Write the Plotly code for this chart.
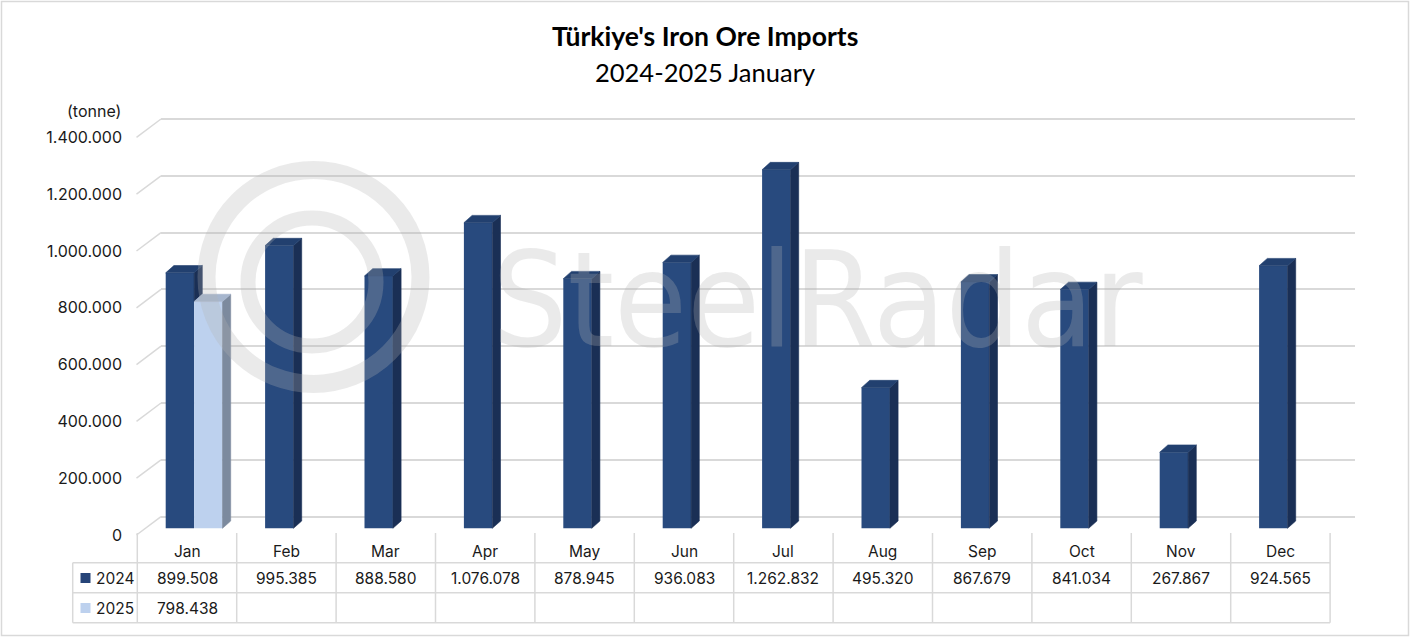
import plotly.graph_objects as go

# ---------------- data ----------------
months = ["Jan", "Feb", "Mar", "Apr", "May", "Jun", "Jul", "Aug", "Sep", "Oct", "Nov", "Dec"]
imports_2024 = [899508, 995385, 888580, 1076078, 878945, 936083, 1262832, 495320, 867679, 841034, 267867, 924565]
imports_2025 = [798438, None, None, None, None, None, None, None, None, None, None, None]
series_names = ["2024", "2025"]
y_ticks = [0, 200000, 400000, 600000, 800000, 1000000, 1200000, 1400000]
title_text = "Türkiye's Iron Ore Imports"
subtitle_text = "2024-2025 January"
unit_text = "(tonne)"
watermark_text = "SteelRadar"

# ---------------- geometry (pixels) ----------------
W, H = 1411, 638
PL, PR, PT, PB = 161, 1355, 100, 545      # plot area
COL0, COLW = 137.3, 99.4                  # table / category columns
K = 56.8 / 200000                         # px per tonne
BAR_ZERO, FRONT_ZERO, BACK_ZERO = 528.3, 535.0, 516.6
BAR_W = 28.4 / COLW
OFF_2024 = (165.7 - (COL0 + COLW / 2)) / COLW
OFF_2025 = OFF_2024 + BAR_W
DX = 8.2 / COLW
DY = 7.3 / K

C24 = dict(front="#284A7E", side="#1A2F55", top="#22406F", key="#264478")
C25 = dict(front="#BDD1EE", side="#7C8A9E", top="#A6B6CE", key="#BDD1EE")
GRID = "#D9D9D9"
WM = "rgba(180,180,180,0.28)"
FONT = "Inter, Open Sans, sans-serif"


def ux(px):
    return (px - COL0) / COLW - 0.5


def vy(py):
    return (BAR_ZERO - py) / K


def paper_x(px):
    return (px - PL) / (PR - PL)


def paper_y(py):
    return (PB - py) / (PB - PT)


def plane_range(zero_px):
    return [(zero_px - PB) / K, (zero_px - PT) / K]


def fmt(v):
    return f"{v:,}".replace(",", ".")


def faces(vals, off, clip=None):
    sx, sy, tx, ty = [], [], [], []
    for i, v in enumerate(vals):
        if v is None:
            continue
        xl = i + off
        xr = xl + BAR_W
        b = 0
        if clip is not None and clip[i] is not None:
            b = min(clip[i], v)
        sx += [xr, xr + DX, xr + DX, xr, xr, None]
        sy += [b, b + DY, v + DY, v, b, None]
        tx += [xl, xr, xr + DX, xl + DX, xl, None]
        ty += [v, v, v + DY, v + DY, v, None]
    return sx, sy, tx, ty


idx = list(range(len(months)))
fig = go.Figure()

# front faces
fig.add_trace(go.Bar(x=idx, y=imports_2024, width=BAR_W, offset=OFF_2024,
                     marker=dict(color=C24["front"], line=dict(width=0)),
                     name=series_names[0], hoverinfo="skip"))
fig.add_trace(go.Bar(x=idx, y=imports_2025, width=BAR_W, offset=OFF_2025,
                     marker=dict(color=C25["front"], line=dict(width=0)),
                     name=series_names[1], hoverinfo="skip"))

# 3D side / top faces
for vals, off, col, clip in [(imports_2024, OFF_2024, C24, imports_2025),
                             (imports_2025, OFF_2025, C25, None)]:
    sx, sy, tx, ty = faces(vals, off, clip)
    fig.add_trace(go.Scatter(x=sx, y=sy, mode="lines", fill="toself",
                             fillcolor=col["side"], line=dict(color=col["side"], width=0.6),
                             hoverinfo="skip", showlegend=False))
    fig.add_trace(go.Scatter(x=tx, y=ty, mode="lines", fill="toself",
                             fillcolor=col["top"], line=dict(color=col["top"], width=0.6),
                             hoverinfo="skip", showlegend=False))

# anchor traces for the label axis and back-wall axis
fig.add_trace(go.Scatter(x=[None], y=[None], yaxis="y2", showlegend=False, hoverinfo="skip"))
fig.add_trace(go.Scatter(x=[None], y=[None], yaxis="y3", showlegend=False, hoverinfo="skip"))

shapes = []
# diagonal connectors front -> back wall
back_shift = (FRONT_ZERO - BACK_ZERO) / K
for v in y_ticks:
    shapes.append(dict(type="line", xref="paper", yref="y2",
                       x0=paper_x(136.5), x1=paper_x(PL), y0=v, y1=v + back_shift,
                       line=dict(color=GRID, width=1.5), layer="below"))

# data table lines
TBL_L = 72.7
ROW_Y = [562.7, 592.7, 622.7]
TBL_TOP = 533
TBL_R = COL0 + 12 * COLW
for y in ROW_Y:
    shapes.append(dict(type="line", xref="paper", yref="paper",
                       x0=paper_x(TBL_L), x1=paper_x(TBL_R), y0=paper_y(y), y1=paper_y(y),
                       line=dict(color=GRID, width=1.5)))
shapes.append(dict(type="line", xref="paper", yref="paper",
                   x0=paper_x(TBL_L), x1=paper_x(TBL_L), y0=paper_y(ROW_Y[0]), y1=paper_y(ROW_Y[2]),
                   line=dict(color=GRID, width=1.5)))
for j in range(len(months) + 1):
    xp = COL0 + j * COLW
    shapes.append(dict(type="line", xref="paper", yref="paper",
                       x0=paper_x(xp), x1=paper_x(xp), y0=paper_y(TBL_TOP), y1=paper_y(ROW_Y[2]),
                       line=dict(color=GRID, width=1.5)))

# legend keys in the table
for r, col in enumerate([C24["key"], C25["key"]]):
    cy = 578 + 30 * r
    shapes.append(dict(type="rect", xref="paper", yref="paper",
                       x0=paper_x(80.5), x1=paper_x(90.5), y0=paper_y(cy + 5), y1=paper_y(cy - 5),
                       fillcolor=col, line=dict(width=0)))

# watermark logo rings
for cx, cy, r, lw in [(313.5, 277, 107, 18), (312, 282, 64, 15)]:
    shapes.append(dict(type="circle", xref="x", yref="y",
                       x0=ux(cx - r), x1=ux(cx + r), y0=vy(cy + r), y1=vy(cy - r),
                       line=dict(color=WM, width=lw), fillcolor="rgba(0,0,0,0)", layer="above"))

# figure border
shapes.append(dict(type="rect", xref="paper", yref="paper",
                   x0=paper_x(1.5), x1=paper_x(W - 2.5), y0=paper_y(H - 2.5), y1=paper_y(1.5),
                   line=dict(color=GRID, width=1.5), fillcolor="rgba(0,0,0,0)"))

ann = []
ann.append(dict(text="<b>" + title_text + "</b>", xref="paper", yref="paper",
                x=paper_x(705), y=paper_y(36), xanchor="center", yanchor="middle", showarrow=False,
                font=dict(family="Lato, Carlito, sans-serif", size=26.5, color="#000000")))
ann.append(dict(text=subtitle_text, xref="paper", yref="paper",
                x=paper_x(705), y=paper_y(72), xanchor="center", yanchor="middle", showarrow=False,
                font=dict(family="Lato, Carlito, sans-serif", size=25.5, color="#000000")))
ann.append(dict(text=unit_text, xref="paper", yref="paper",
                x=paper_x(123), y=paper_y(111), xanchor="right", yanchor="middle", showarrow=False,
                font=dict(family=FONT, size=16, color="#1a1a1a")))
# table text
for i, m in enumerate(months):
    ann.append(dict(text=m, xref="x", yref="paper", x=i, y=paper_y(551),
                    xanchor="center", yanchor="middle", showarrow=False,
                    font=dict(family=FONT, size=15.5, color="#1a1a1a")))
for r, vals in enumerate([imports_2024, imports_2025]):
    cy = 578 + 30 * r
    ann.append(dict(text=series_names[r], xref="paper", yref="paper", x=paper_x(93.5), y=paper_y(cy),
                    xanchor="left", yanchor="middle", showarrow=False,
                    font=dict(family=FONT, size=15.5, color="#1a1a1a")))
    for i, v in enumerate(vals):
        if v is None:
            continue
        ann.append(dict(text=fmt(v), xref="x", yref="paper", x=i, y=paper_y(cy),
                        xanchor="center", yanchor="middle", showarrow=False,
                        font=dict(family=FONT, size=15.5, color="#1a1a1a")))
# watermark text
ann.append(dict(text=watermark_text, xref="paper", yref="paper", x=paper_x(817), y=paper_y(300),
                xanchor="center", yanchor="middle", showarrow=False,
                font=dict(family="Liberation Sans Narrow, DejaVu Sans Condensed, Arial Narrow, sans-serif",
                          size=132, color=WM)))

fig.update_layout(
    width=W, height=H,
    margin=dict(l=PL, r=W - PR, t=PT, b=H - PB, pad=0),
    paper_bgcolor="white", plot_bgcolor="rgba(0,0,0,0)",
    barmode="overlay", showlegend=False,
    xaxis=dict(range=[ux(PL), ux(PR)], visible=False, fixedrange=True),
    yaxis=dict(range=plane_range(BAR_ZERO), visible=False, fixedrange=True),
    yaxis2=dict(range=plane_range(FRONT_ZERO), overlaying="y", side="left",
                tickvals=y_ticks, ticktext=[fmt(v) for v in y_ticks],
                showgrid=False, zeroline=False, showline=False, ticks="",
                ticklabelstandoff=38, fixedrange=True,
                tickfont=dict(family=FONT, size=16, color="#1a1a1a")),
    yaxis3=dict(range=plane_range(BACK_ZERO), overlaying="y", side="left",
                tickvals=y_ticks, showticklabels=False, showgrid=True,
                gridcolor=GRID, gridwidth=1.5, zeroline=False, showline=False, ticks="",
                fixedrange=True),
    shapes=shapes, annotations=ann,
)

fig.write_html("out.html", config={"displayModeBar": False},
               post_script="document.body.style.margin='0';document.body.style.padding='0';")
